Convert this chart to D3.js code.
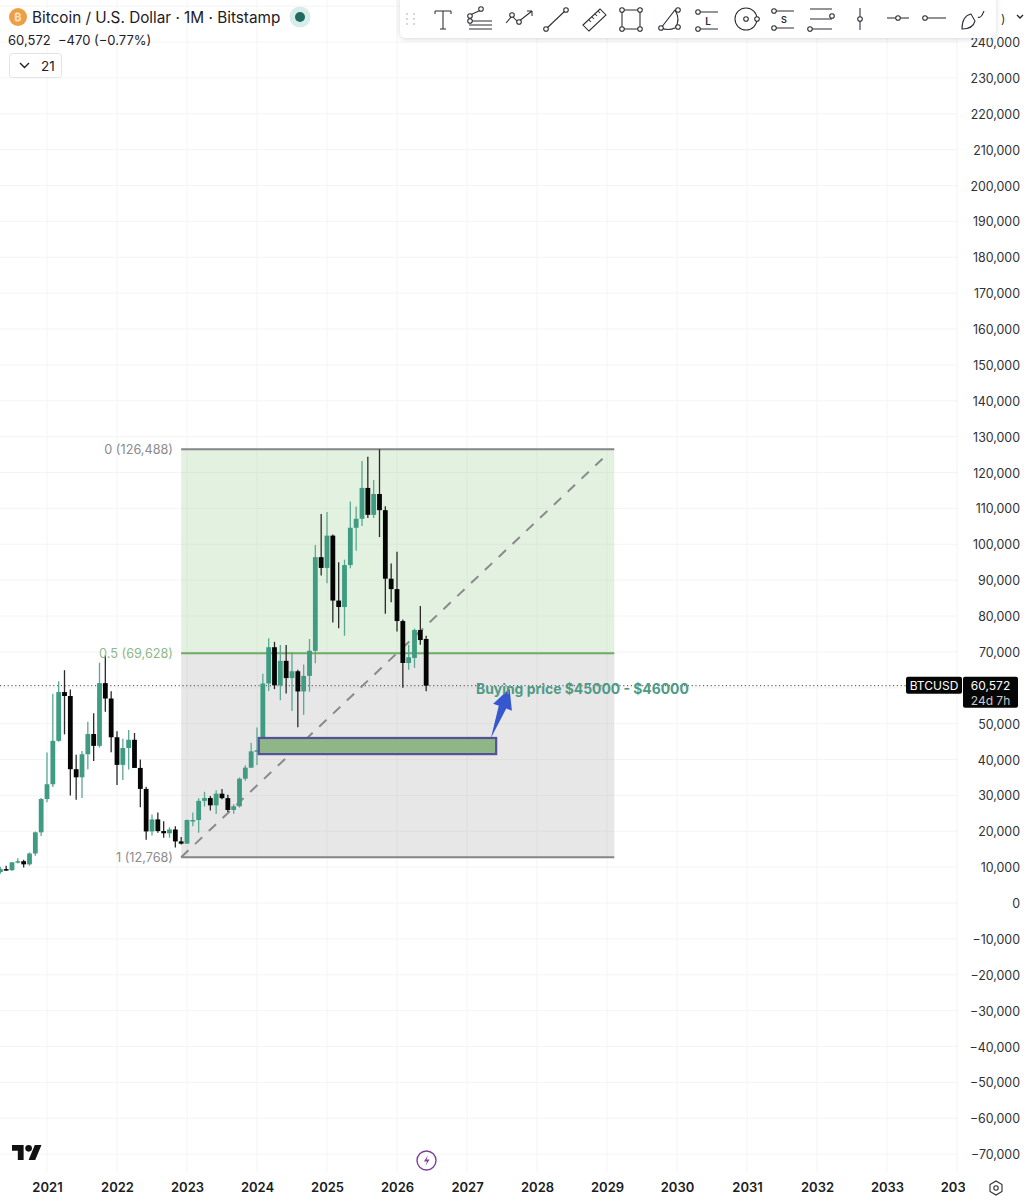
<!DOCTYPE html>
<html><head><meta charset="utf-8">
<script src="https://cdn.jsdelivr.net/npm/d3@7/dist/d3.min.js"></script>
<style>
html,body{margin:0;padding:0;background:#fff}
svg{display:block}
text{font-family:Inter,"Noto Sans",sans-serif}
</style></head><body><svg id="c" width="1031" height="1200"></svg>
<script>
// months since Jan 2021 (first candle = May 2020)
const startMonth = -8;
const opens  = [8620,9450,9140,11340,11650,10780,13800,19700,
 28990,33100,45200,58800,57700,37300,35040,41460,47100,43800,61300,57000,
 46200,38500,43200,45500,37650,31800,19950,23300,20050,19430,20490,17170,
 16540,23130,23140,28470,29250,27220,30470,29230,25930,26970,34650,37720,
 42280,42580,61180,71300,60670,67500,62700,64600,58970,63300,70300,96400,
 93400,102400,84300,82500,94200,104600,107100,115700,108200,114000,109500,90400,
 87500,78600,66900,68300,76100,73600];
const highs  = [10070,10380,11440,12480,12070,14100,19900,29300,
 41950,58300,61780,64900,59500,41300,42400,50500,52900,67000,69000,59000,
 47900,45800,48200,47400,40000,32400,24700,25200,22800,21100,21400,18400,
 23300,25200,29200,31000,29800,31400,31800,30200,27500,35000,38400,44700,
 48900,63900,73800,72800,71900,71900,70000,65000,66500,73600,99800,108400,
 109000,102700,95000,95700,111900,110500,123200,124400,117900,126488,110600,94600,
 97900,79000,72000,76500,82800,74500];
const lows   = [8120,8900,8970,10980,9880,10380,13200,18700,
 28100,32300,44950,47000,30000,28800,29300,37300,39600,43300,53300,42000,
 32900,34300,37200,37700,26700,17600,18800,19600,18200,18200,15500,16300,
 16500,21400,19600,26900,25800,24800,28900,25400,24900,26600,34100,37600,
 38500,41900,59100,59600,56500,58400,53500,49000,52500,58900,66800,91300,
 89100,78200,76600,74500,93300,98200,105100,107300,107300,102000,80600,83800,
 75700,60000,65000,65500,72000,59000];
const closes = [9450,9140,11340,11650,10780,13800,19700,28990,
 33100,45200,58800,57700,37300,35040,41460,47100,43800,61300,57000,46200,
 38500,43200,45500,37650,31800,19950,23300,20050,19430,20490,17170,16540,
 23130,23140,28470,29250,27220,30470,29230,25930,26970,34650,37720,42280,
 42580,61180,71300,60670,67500,62700,64600,58970,63300,70300,96400,93400,
 102400,84300,82500,94200,104600,107100,115700,108200,114000,109500,90400,87500,
 78600,66900,68500,76100,73300,60572];
const yearLabels = [2021,2022,2023,2024,2025,2026,2027,2028,2029,2030,2031,2032,2033,2034];
const priceTicks = d3.range(-70000,240001,10000);
const hiddenTick = 60000;          // covered by the last-price tag in the reference
const fibLevels = [126488,69628,12768];
const fibLabels = ["0 (126,488)","0.5 (69,628)","1 (12,768)"];
const fibSpan = [23,97.25];        // months since Jan 2021
const buyZone = {m0:36.3,m1:77.0,top:46000,bottom:41500};
const arrowFrom = {m:76.1,p:46000}, arrowTo = {m:79.3,p:59800};
const lastPrice = 60572;

const W=1031,H=1200,plotR=965;
const svg=d3.select("#c");
const x=d3.scaleLinear().domain([0,12]).range([47,117]);
const y=d3.scaleLinear().domain([0,240000]).range([903,42]);
const mIdx=i=>i+startMonth;
const up="#3f9b82", dn="#050505";

const defs=svg.append("defs");
defs.append("clipPath").attr("id","plot").append("rect").attr("x",0).attr("y",0).attr("width",958).attr("height",H);
defs.append("clipPath").attr("id","xclip").append("rect").attr("x",0).attr("y",1172).attr("width",plotR).attr("height",28);
const f=defs.append("filter").attr("id","sh").attr("x","-5%").attr("y","-30%").attr("width","110%").attr("height","170%");
f.append("feDropShadow").attr("dx",0).attr("dy",1).attr("stdDeviation",2.5).attr("flood-color","#000").attr("flood-opacity",.16);

// grid
const g=svg.append("g").attr("clip-path","url(#plot)");
g.selectAll("line.h").data(priceTicks.concat([250000])).join("line").attr("class","h")
 .attr("x1",0).attr("x2",958).attr("y1",d=>y(d)).attr("y2",d=>y(d)).attr("stroke","#f4f4f5");
g.selectAll("line.v").data(yearLabels).join("line").attr("class","v")
 .attr("x1",d=>x((d-2021)*12)).attr("x2",d=>x((d-2021)*12)).attr("y1",0).attr("y2",1172).attr("stroke","#f4f4f5");

// fib box
const fx0=x(fibSpan[0]),fx1=x(fibSpan[1]);
g.append("rect").attr("x",fx0).attr("width",fx1-fx0).attr("y",y(fibLevels[0])).attr("height",y(fibLevels[1])-y(fibLevels[0])).attr("fill","#a6d3a0").attr("opacity",.33);
g.append("rect").attr("x",fx0).attr("width",fx1-fx0).attr("y",y(fibLevels[1])).attr("height",y(fibLevels[2])-y(fibLevels[1])).attr("fill","#9a9aa0").attr("opacity",.24);
// price line
g.append("line").attr("x1",0).attr("x2",958).attr("y1",y(lastPrice)).attr("y2",y(lastPrice)).attr("stroke","#444").attr("stroke-dasharray","1.2 2.6");
// diagonal
g.append("line").attr("x1",fx0).attr("y1",y(fibLevels[2])).attr("x2",x(96)).attr("y2",y(125000)).attr("stroke","#8a8a8a").attr("stroke-width",2).attr("stroke-dasharray","10 9");
// fib lines
fibLevels.forEach((v,i)=>{
 g.append("line").attr("x1",fx0).attr("x2",fx1).attr("y1",y(v)).attr("y2",y(v)).attr("stroke",i==1?"#6dab62":"#85858a").attr("stroke-width",2);
 svg.append("text").attr("x",173).attr("y",y(v)+5).attr("text-anchor","end").attr("font-size",12.7).attr("fill",i==1?"#8db889":"#8b8b8f").text(fibLabels[i]);
});

// candles
const idx=d3.range(opens.length);
const c=g.append("g");
c.selectAll("line").data(idx).join("line")
 .attr("x1",i=>x(mIdx(i))).attr("x2",i=>x(mIdx(i))).attr("y1",i=>y(highs[i])).attr("y2",i=>y(lows[i]))
 .attr("stroke",i=>closes[i]>=opens[i]?"#5aa893":"#2a2a2a").attr("stroke-width",1.3);
c.selectAll("rect").data(idx).join("rect")
 .attr("x",i=>x(mIdx(i))-2.4).attr("width",4.8)
 .attr("y",i=>y(Math.max(opens[i],closes[i])))
 .attr("height",i=>Math.max(1.5,Math.abs(y(opens[i])-y(closes[i]))))
 .attr("fill",i=>closes[i]>=opens[i]?up:dn);

// buy zone
g.append("rect").attr("x",x(buyZone.m0)).attr("width",x(buyZone.m1)-x(buyZone.m0)).attr("y",y(buyZone.top)).attr("height",y(buyZone.bottom)-y(buyZone.top))
 .attr("fill","#8fb686").attr("stroke","#55509a").attr("stroke-width",2.2);
// arrow
{const ax=x(arrowFrom.m),ay=y(arrowFrom.p),bx=x(arrowTo.m),by=y(arrowTo.p);
 const dx=bx-ax,dy=by-ay,L=Math.hypot(dx,dy),ux=dx/L,uy=dy/L,nx=-uy,ny=ux;
 const hb=L-20;
 const pts=[[ax,ay],[ax+ux*hb+nx*4,ay+uy*hb+ny*4],[ax+ux*hb+nx*10,ay+uy*hb+ny*10],[bx,by],[ax+ux*hb-nx*10,ay+uy*hb-ny*10],[ax+ux*hb-nx*4,ay+uy*hb-ny*4]];
 g.append("polygon").attr("points",pts.join(" ")).attr("fill","#3558cf");}
svg.append("text").attr("x",476).attr("y",693.5).attr("font-size",13.9).attr("font-weight",700).attr("fill","#4f9a86").text("Buying price $45000 - $46000");

// axes
const ya=d3.axisRight(y).tickValues(priceTicks.filter(d=>d!==hiddenTick)).tickSize(0).tickPadding(0).tickFormat(d3.format(","));
const yg=svg.append("g").attr("transform","translate(1020,0.6)").call(ya);
yg.select(".domain").remove();
yg.selectAll("text").attr("text-anchor","end").attr("font-size",12.4).attr("fill","#2f3138").attr("font-family","Inter,sans-serif");
const xa=d3.axisBottom(x).tickValues(yearLabels.map(d=>(d-2021)*12)).tickSize(0).tickPadding(0).tickFormat(d=>String(2021+d/12));
const xg=svg.append("g").attr("clip-path","url(#xclip)").append("g").attr("transform","translate(0,1183)").call(xa);
xg.select(".domain").remove();
xg.selectAll("text").attr("font-size",13).attr("font-weight",600).attr("fill","#1a1c22").attr("font-family","Inter,sans-serif");

// price tags
const py=y(lastPrice);
svg.append("rect").attr("x",906).attr("y",py-9).attr("width",56).attr("height",17).attr("rx",2).attr("fill","#060606");
svg.append("text").attr("x",934).attr("y",py+4).attr("text-anchor","middle").attr("font-size",12).attr("fill","#fff").text("BTCUSD");
svg.append("rect").attr("x",963).attr("y",py-9).attr("width",55).attr("height",31).attr("rx",2).attr("fill","#060606");
svg.append("text").attr("x",990.5).attr("y",py+4).attr("text-anchor","middle").attr("font-size",12).attr("fill","#fff").text("60,572");
svg.append("text").attr("x",990.5).attr("y",py+19).attr("text-anchor","middle").attr("font-size",12).attr("fill","#c9c9c9").text("24d 7h");

// header
svg.append("circle").attr("cx",18).attr("cy",17).attr("r",9).attr("fill","#ee9f45");
svg.append("text").attr("x",18).attr("y",21).attr("text-anchor","middle").attr("font-size",11).attr("font-weight",700).attr("fill","#fbe3c3").text("₿");
svg.append("text").attr("x",32).attr("y",22.5).attr("font-size",15.3).attr("fill","#1e2027").text("Bitcoin / U.S. Dollar · 1M · Bitstamp");
svg.append("circle").attr("cx",300).attr("cy",17).attr("r",10.5).attr("fill","#d8ecea");
svg.append("circle").attr("cx",300).attr("cy",17).attr("r",5).attr("fill","#1f6a5e");
svg.append("text").attr("x",8).attr("y",45).attr("font-size",13).attr("fill","#1e2027").attr("xml:space","preserve").text("60,572  −470 (−0.77%)");
svg.append("rect").attr("x",9.5).attr("y",53.5).attr("width",52).attr("height",24).attr("rx",3).attr("fill","#fff").attr("stroke","#e2e3e6");
svg.append("path").attr("d","M20 63l4.5 4.5 4.5-4.5").attr("fill","none").attr("stroke","#1e2027").attr("stroke-width",1.4);
svg.append("text").attr("x",41).attr("y",71).attr("font-size",13.5).attr("fill","#1e2027").text("21");

// toolbar
svg.append("text").attr("x",1001).attr("y",23).attr("font-size",12).attr("fill","#333").text(")");
svg.append("path").attr("d","M1017 15l3 3 3-3").attr("fill","none").attr("stroke","#222").attr("stroke-width",1.3);
svg.append("rect").attr("x",400).attr("y",-6).attr("width",596).attr("height",44).attr("rx",6).attr("fill","#fff").attr("filter","url(#sh)");
const dots=svg.append("g").attr("fill","#c9cacc");
[407,414].forEach(a=>[14,19,24].forEach(b=>dots.append("circle").attr("cx",a).attr("cy",b).attr("r",1)));
const ic=svg.append("g").attr("fill","none").attr("stroke","#2b2d33").attr("stroke-width",1.05);
const node=(x,y)=>ic.append("circle").attr("cx",x).attr("cy",y).attr("r",2.3).attr("fill","#fff");
const p=d=>ic.append("path").attr("d",d);
p("M435 11h16M443 11v18M440 29h6M435 11v3M451 11v3");
p("M469 25h23M469 29h23M469 21h23M470 15l11-5"); node(470,16);node(470,21);node(481,9);
p("M506 23l6-7 6 6 14-11M532 11h-5M532 11v5"); node(512,15);node(519,22);
p("M546 29l20-19"); node(546,29);node(566,10);
p("M583 25l17-16 6 6-17 16zM589 20l2 2M592 17l2 2M595 14l2 2M598 11l2 2");
p("M622 10h18v19h-18z"); node(622,10);node(640,10);node(622,29);node(640,29);
p("M661 28l14-18q6 10 0 18q-7 3-14 0z"); node(661,28);node(678,10);node(678,27);
p("M698 12h20M698 29h20"); node(698,12);node(698,29);
ic.append("text").attr("x",708).attr("y",25).attr("text-anchor","middle").attr("font-size",10).attr("stroke","none").attr("fill","#2b2d33").attr("font-weight",600).text("L");
ic.append("circle").attr("cx",746).attr("cy",19).attr("r",11); node(746,19);node(757,19);
p("M774 11h20M774 28h20"); node(774,11);node(774,28);
ic.append("text").attr("x",784).attr("y",23).attr("text-anchor","middle").attr("font-size",9).attr("stroke","none").attr("fill","#2b2d33").attr("font-weight",600).text("S");
p("M810 9h22M810 19h22M810 29h22"); node(832,16);node(810,29);
p("M860 8v22"); node(860,19);
p("M887 18h22"); node(898,18);
p("M925 18h21"); node(925,18);
p("M962 29q0-13 9-15l4 7q-2 8-13 8zM978 17q3 2 6-6");

// logo & icons
const logo=svg.append("g").attr("transform","translate(12,1145) scale(.83)").attr("fill","#111");
logo.append("path").attr("d","M14 18H7V7H0V0h14v18zM28 18h-8L27.5 0h8L28 18z");
logo.append("circle").attr("cx",20).attr("cy",4).attr("r",4);
svg.append("circle").attr("cx",426.5).attr("cy",1160.5).attr("r",9.5).attr("fill","#fff").attr("stroke","#7d3f9c").attr("stroke-width",1.4);
svg.append("path").attr("d","M428 1155l-4 6.5h3l-1.5 4.5 4-6.5h-3z").attr("fill","#7d3f9c");
svg.append("path").attr("d","M996 1181l6 3.5v7l-6 3.5-6-3.5v-7z").attr("fill","none").attr("stroke","#2b2d33").attr("stroke-width",1.1);
svg.append("circle").attr("cx",996).attr("cy",1188).attr("r",2.2).attr("fill","none").attr("stroke","#2b2d33").attr("stroke-width",1.1);
</script></body></html>
